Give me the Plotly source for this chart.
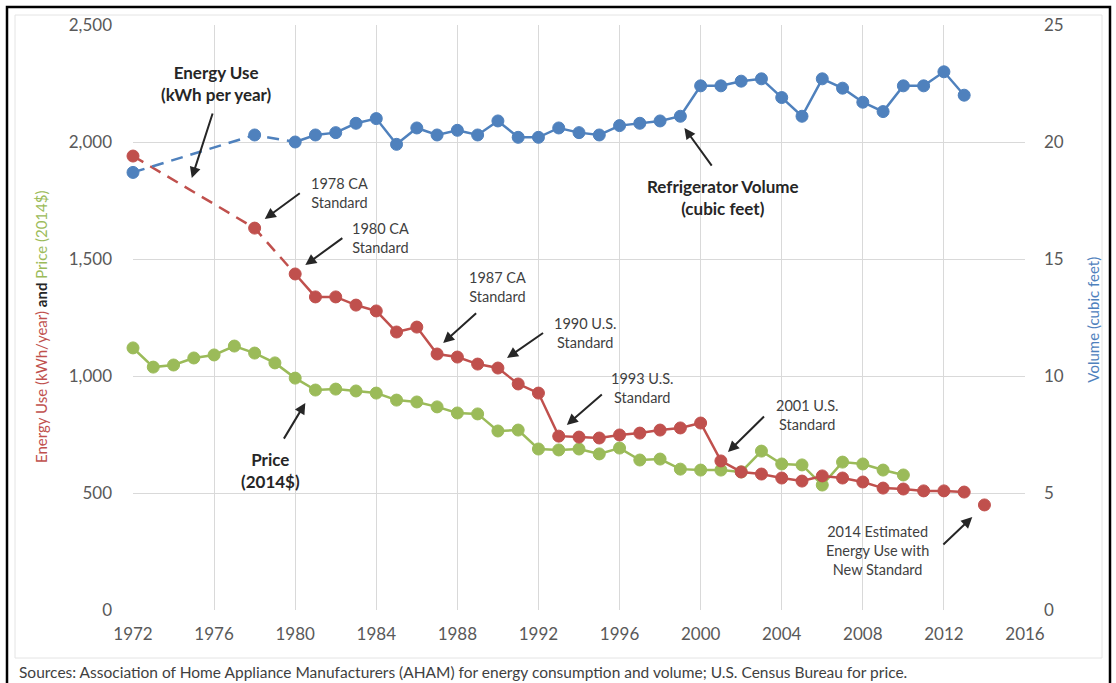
import plotly.graph_objects as go

# ---- data -------------------------------------------------------------
energy_years = [1972, 1978, 1980, 1981, 1982, 1983, 1984, 1985, 1986, 1987,
                1988, 1989, 1990, 1991, 1992, 1993, 1994, 1995, 1996, 1997,
                1998, 1999, 2000, 2001, 2002, 2003, 2004, 2005, 2006, 2007,
                2008, 2009, 2010, 2011, 2012, 2013]
energy_kwh = [1940, 1632, 1436, 1338, 1338, 1303, 1278, 1188, 1209, 1094,
              1081, 1051, 1034, 966, 927, 743, 739, 735, 748, 756,
              769, 778, 799, 637, 590, 581, 564, 551, 573, 564,
              547, 521, 517, 509, 509, 504]
estimate_year = [2014]
estimate_kwh = [449]

price_years = list(range(1972, 2011))
price_usd = [1120, 1038, 1047, 1077, 1090, 1128, 1098, 1056, 991, 940,
             944, 936, 927, 897, 889, 868, 842, 838, 765, 769,
             688, 684, 688, 667, 692, 641, 645, 602, 598, 598,
             590, 679, 624, 620, 534, 632, 624, 598, 577]

volume_years = energy_years
volume_cuft = [18.7, 20.3, 20.0, 20.3, 20.4, 20.8, 21.0, 19.9, 20.6, 20.3,
               20.5, 20.3, 20.9, 20.2, 20.2, 20.6, 20.4, 20.3, 20.7, 20.8,
               20.9, 21.1, 22.4, 22.4, 22.6, 22.7, 21.9, 21.1, 22.7, 22.3,
               21.7, 21.3, 22.4, 22.4, 23.0, 22.0]

year_ticks = list(range(1972, 2017, 4))
kwh_ticks = [0, 500, 1000, 1500, 2000, 2500]
vol_ticks = [0, 5, 10, 15, 20, 25]

# ---- styling ------------------------------------------------------------
RED = "#C0504D"
GREEN = "#9BBB59"
BLUE = "#4F81BD"
FONT = "Lato"
TICK_COLOR = "#595959"
NOTE_COLOR = "#3F3F3F"
MARKER_SIZE = 12

fig = go.Figure()

# Early (sparse) years are joined with dashed lines
n_dash = 3


def add_series(years, values, color, yaxis, dashed_head=0):
    if dashed_head:
        fig.add_trace(go.Scatter(
            x=years[:dashed_head], y=values[:dashed_head], mode="lines",
            line=dict(color=color, width=2.5, dash="12px,8px"), yaxis=yaxis,
            hoverinfo="skip", cliponaxis=False))
    start = dashed_head - 1 if dashed_head else 0
    fig.add_trace(go.Scatter(
        x=years[start:], y=values[start:], mode="lines",
        line=dict(color=color, width=2.5), yaxis=yaxis,
        hoverinfo="skip", cliponaxis=False))
    fig.add_trace(go.Scatter(
        x=years, y=values, mode="markers",
        marker=dict(color=color, size=MARKER_SIZE,
                    line=dict(color=color, width=1)),
        yaxis=yaxis, cliponaxis=False))


add_series(volume_years, volume_cuft, BLUE, "y2", dashed_head=n_dash)
add_series(price_years, price_usd, GREEN, "y")
add_series(energy_years, energy_kwh, RED, "y", dashed_head=n_dash)
fig.add_trace(go.Scatter(
    x=estimate_year, y=estimate_kwh, mode="markers",
    marker=dict(color=RED, size=MARKER_SIZE, line=dict(color=RED, width=1)),
    cliponaxis=False))

# ---- callouts -------------------------------------------------------------
# (text, text_x, text_y, head_x, head_y, tail_x, tail_y, bold)
callouts = [
    ("Energy Use<br>(kWh per year)", 1976.1, 2252, 1974.9, 1846, 1975.95, 2128, True),
    ("1978 CA<br>Standard", 1982.2, 1782, 1978.5, 1671, 1980.3, 1786, False),
    ("1980 CA<br>Standard", 1984.2, 1590, 1980.5, 1474, 1982.4, 1594, False),
    ("1987 CA<br>Standard", 1990.0, 1380, 1987.3, 1141, 1989.0, 1274, False),
    ("1990 U.S.<br>Standard", 1994.3, 1184, 1990.45, 1077, 1992.3, 1188, False),
    ("1993 U.S.<br>Standard", 1997.1, 949, 1993.4, 791, 1995.2, 927, False),
    ("2001 U.S.<br>Standard", 2005.25, 833, 2001.35, 675, 2003.2, 833, False),
    ("Refrigerator Volume<br>(cubic feet)", 2001.1, 1761, 1999.2, 2060, 2000.6, 1893, True),
    ("Price<br>(2014$)", 1978.8, 598, 1980.5, 885, 1979.4, 726, True),
    ("2014 Estimated<br>Energy Use with<br>New Standard", 2008.7, 256, 2013.4, 397, 2011.9, 274, False),
]

annotations = []
for text, tx, ty, hx, hy, sx, sy, bold in callouts:
    annotations.append(dict(
        x=tx, y=ty, xref="x", yref="y", text=text, showarrow=False,
        xanchor="center", yanchor="middle",
        font=dict(family=FONT, size=17 if bold else 14.5,
                  color="#262626" if bold else NOTE_COLOR,
                  weight="bold" if bold else "normal")))
    annotations.append(dict(
        x=hx, y=hy, xref="x", yref="y", ax=sx, ay=sy, axref="x", ayref="y",
        text="", showarrow=True, arrowhead=2, arrowsize=1.1, arrowwidth=2,
        arrowcolor="#262626", standoff=0, startstandoff=0))

# Axis titles
annotations.append(dict(
    x=-0.103, y=0.484, xref="paper", yref="paper", textangle=-90,
    showarrow=False, xanchor="center", yanchor="middle",
    text=(f"<span style='color:{RED}'>Energy Use (kWh/year)</span> "
          "<b><span style='color:#262626'>and</span></b> "
          f"<span style='color:{GREEN}'>Price (2014$)</span>"),
    font=dict(family=FONT, size=15)))
annotations.append(dict(
    x=1.076, y=0.496, xref="paper", yref="paper", textangle=-90,
    showarrow=False, xanchor="center", yanchor="middle",
    text="Volume (cubic feet)", font=dict(family=FONT, size=15, color=BLUE)))

# Source note
annotations.append(dict(
    x=-0.130, y=-0.106, xref="paper", yref="paper", xanchor="left",
    yanchor="middle", showarrow=False,
    text=("Sources: Association of Home Appliance Manufacturers (AHAM) for "
          "energy consumption and volume; U.S. Census Bureau for price."),
    font=dict(family=FONT, size=15.5, color=NOTE_COLOR)))

# ---- frames ---------------------------------------------------------------
PLOT_L, PLOT_R, PLOT_T, PLOT_B = 133, 1025, 25, 610


def px_x(p):
    return (p - PLOT_L) / (PLOT_R - PLOT_L)


def px_y(p):
    return (PLOT_B - p) / (PLOT_B - PLOT_T)


shapes = [
    dict(type="rect", xref="paper", yref="paper",
         x0=px_x(15), x1=px_x(1102), y0=px_y(15), y1=px_y(658),
         line=dict(color="#E4E4E4", width=1), layer="below"),
    dict(type="rect", xref="paper", yref="paper",
         x0=px_x(7), x1=px_x(1110), y0=px_y(7), y1=px_y(700),
         line=dict(color="#000000", width=2.5), layer="above"),
]

fig.update_layout(
    width=1116, height=683,
    margin=dict(l=PLOT_L, r=1116 - PLOT_R, t=PLOT_T, b=683 - PLOT_B),
    paper_bgcolor="white", plot_bgcolor="white",
    showlegend=False,
    font=dict(family=FONT, color=TICK_COLOR),
    xaxis=dict(range=[1972, 2016], tickvals=year_ticks, showgrid=True,
               gridcolor="#D9D9D9", gridwidth=1, zeroline=False,
               showline=False, ticks="", ticklabelstandoff=12,
               tickfont=dict(family=FONT, size=17, color=TICK_COLOR)),
    yaxis=dict(range=[0, 2500], tickvals=kwh_ticks, tickformat=",d",
               showgrid=True, gridcolor="#D9D9D9", gridwidth=1,
               zeroline=False, showline=False, ticks="",
               ticklabelstandoff=20,
               tickfont=dict(family=FONT, size=17, color=TICK_COLOR)),
    yaxis2=dict(range=[0, 25], tickvals=vol_ticks, overlaying="y",
                side="right", showgrid=False, zeroline=False,
                showline=False, ticks="", ticklabelstandoff=18,
                tickfont=dict(family=FONT, size=17, color=TICK_COLOR)),
    annotations=annotations,
    shapes=shapes,
)

fig.write_html("out.html")
